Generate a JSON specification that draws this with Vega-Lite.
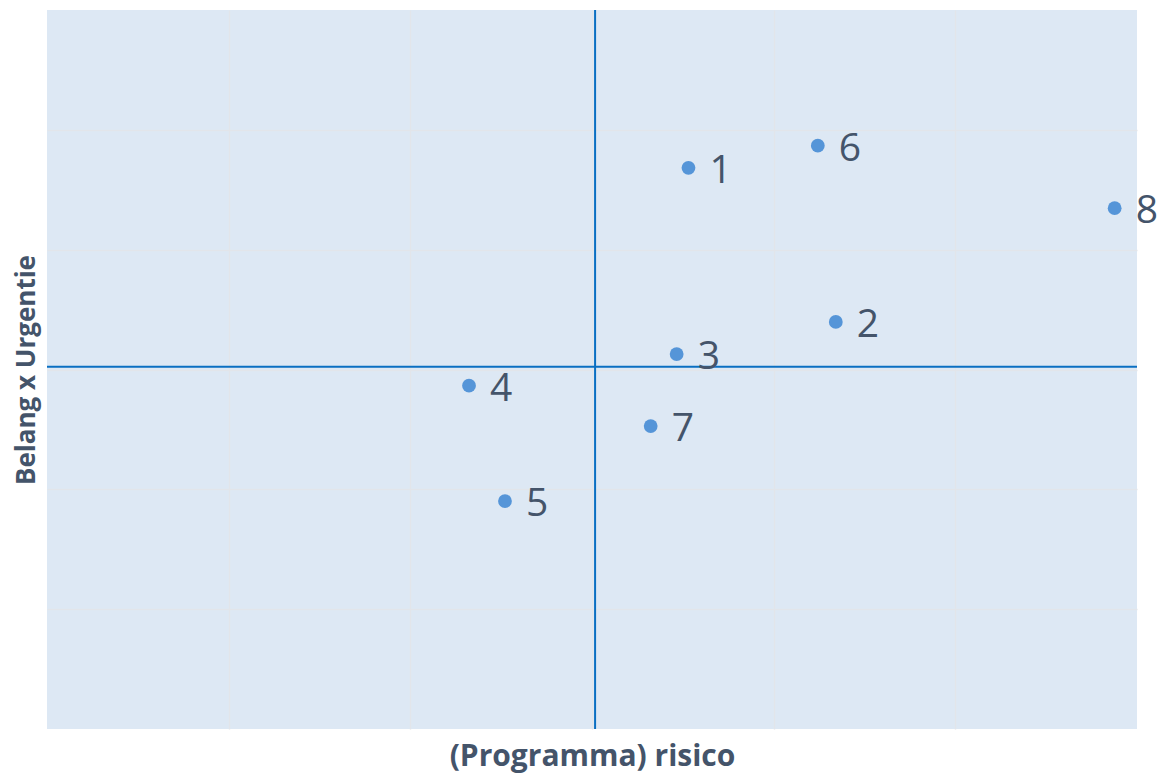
{
  "$schema": "https://vega.github.io/schema/vega-lite/v6.json",
  "width": 1090,
  "height": 719,
  "autosize": {"type": "none"},
  "padding": {"left": 47, "top": 10, "right": 21, "bottom": 46},
  "background": "white",
  "config": {
    "view": {"fill": "#dde8f4", "stroke": null},
    "font": "Open Sans"
  },
  "data": {
    "values": [
      {"id": "1", "risico": 0.531, "belang": 1.683},
      {"id": "2", "risico": 1.342, "belang": 0.397},
      {"id": "3", "risico": 0.466, "belang": 0.129},
      {"id": "4", "risico": -0.677, "belang": -0.135},
      {"id": "5", "risico": -0.479, "belang": -1.098},
      {"id": "6", "risico": 1.243, "belang": 1.868},
      {"id": "7", "risico": 0.323, "belang": -0.472},
      {"id": "8", "risico": 2.877, "belang": 1.346}
    ]
  },
  "encoding": {
    "x": {
      "field": "risico",
      "type": "quantitative",
      "scale": {"domain": [-3, 3], "nice": false, "zero": false},
      "axis": {
        "title": "(Programma) risico",
        "titleFont": "Open Sans",
        "titleFontSize": 30,
        "titleFontWeight": "bold",
        "titleColor": "#44546a",
        "titlePadding": 12,
        "values": [-2, -1, 0, 1, 2],
        "labels": false,
        "ticks": false,
        "domain": false,
        "grid": true,
        "gridColor": "#e2e5ea",
        "gridWidth": 1.5
      }
    },
    "y": {
      "field": "belang",
      "type": "quantitative",
      "scale": {"domain": [-3, 3], "nice": false, "zero": false},
      "axis": {
        "title": "Belang x Urgentie",
        "titleFont": "Open Sans",
        "titleFontSize": 26,
        "titleFontWeight": "bold",
        "titleColor": "#44546a",
        "titlePadding": 8,
        "values": [-2, -1, 0, 1, 2],
        "labels": false,
        "ticks": false,
        "domain": false,
        "grid": true,
        "gridColor": "#e2e5ea",
        "gridWidth": 1.5
      }
    }
  },
  "layer": [
    {
      "data": {"values": [{"xv": 0.017}]},
      "mark": {"type": "rule", "color": "#0a6fc2", "strokeWidth": 2},
      "encoding": {"x": {"field": "xv", "type": "quantitative"}, "y": null}
    },
    {
      "data": {"values": [{"yv": 0.023}]},
      "mark": {"type": "rule", "color": "#0a6fc2", "strokeWidth": 2},
      "encoding": {"y": {"field": "yv", "type": "quantitative"}, "x": null}
    },
    {
      "mark": {"type": "circle", "size": 190, "color": "#5595d8", "opacity": 1}
    },
    {
      "mark": {"type": "text", "align": "left", "baseline": "alphabetic", "dx": 21, "dy": 15, "fontSize": 39, "color": "#44546a", "clip": false},
      "encoding": {"text": {"field": "id", "type": "nominal"}}
    }
  ]
}
